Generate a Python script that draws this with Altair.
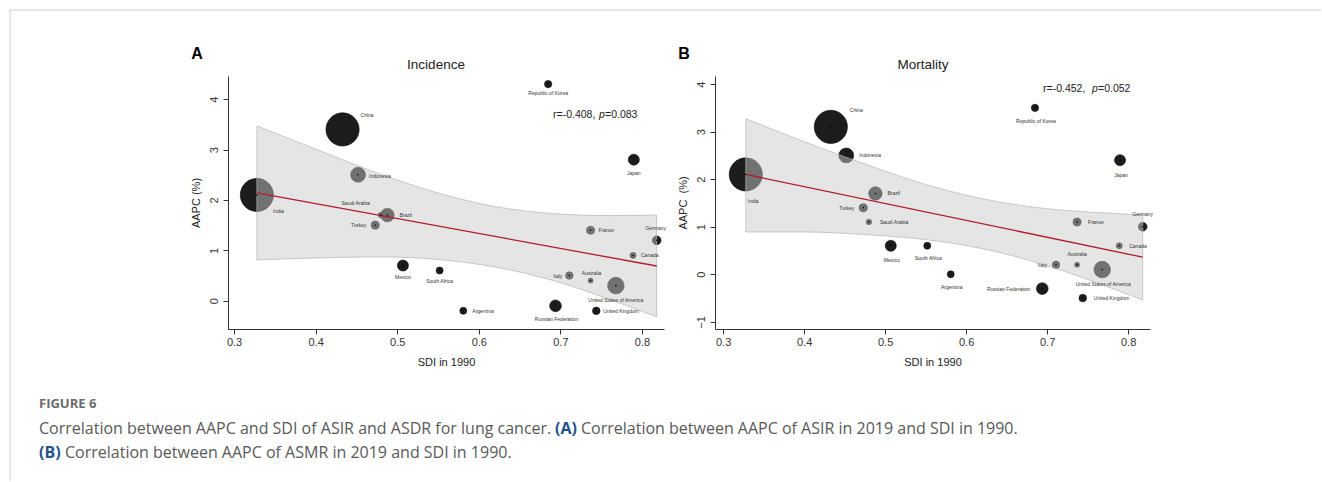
import altair as alt
import pandas as pd

# ---------------- data ----------------
countries = ["China", "India", "Republic of Korea", "Japan", "France", "Germany", "Canada",
             "Italy", "Australia", "United States of America", "United Kingdom",
             "Russian Federation", "Argentina", "South Africa", "Mexico", "Turkey", "Brazil",
             "Saudi Arabia", "Indonesia"]
sdi_1990 = [0.433, 0.328, 0.685, 0.790, 0.737, 0.818, 0.789, 0.711, 0.737, 0.768, 0.744,
            0.694, 0.581, 0.552, 0.507, 0.473, 0.488, 0.480, 0.452]
aapc_incidence = [3.4, 2.1, 4.3, 2.8, 1.4, 1.2, 0.9, 0.5, 0.4, 0.3, -0.2,
                  -0.1, -0.2, 0.6, 0.7, 1.5, 1.7, 1.7, 2.5]
aapc_mortality = [3.1, 2.1, 3.5, 2.4, 1.1, 1.0, 0.6, 0.2, 0.2, 0.1, -0.5,
                  -0.3, 0.0, 0.6, 0.6, 1.4, 1.7, 1.1, 2.5]
bubble_weight = [1444, 1444, 70, 160, 85, 100, 49, 75, 33, 361, 75,
                 180, 64, 64, 160, 88, 240, 40, 289]

band_sdi = [0.328, 0.40, 0.48, 0.55, 0.62, 0.70, 0.76, 0.818]
incidence_upper = [3.47, 3.01, 2.51, 2.14, 1.87, 1.72, 1.69, 1.70]
incidence_lower = [0.81, 0.85, 0.87, 0.82, 0.67, 0.36, 0.03, -0.32]
mortality_upper = [3.27, 2.79, 2.29, 1.89, 1.59, 1.38, 1.30, 1.25]
mortality_lower = [0.89, 0.89, 0.83, 0.73, 0.54, 0.18, -0.17, -0.54]

fit_sdi = [0.328, 0.818]
incidence_fit = [2.14, 0.69]
mortality_fit = [2.10, 0.36]

sdi_ticks = [0.3, 0.4, 0.5, 0.6, 0.7, 0.8]
incidence_ticks = [0, 1, 2, 3, 4]
mortality_ticks = [-1, 0, 1, 2, 3, 4]

# ---------------- label placement (style) ----------------
incidence_label_pos = {
    "China": (18, -14, "left"), "India": (16, 16, "left"), "Republic of Korea": (0, 9, "center"),
    "Japan": (0, 13, "center"), "France": (8, 0, "left"), "Germany": (-1, -12, "center"),
    "Canada": (8, 0, "left"), "Italy": (-7, 0, "right"), "Australia": (1, -8, "center"),
    "United States of America": (0, 14, "center"), "United Kingdom": (7, 0, "left"),
    "Russian Federation": (1, 13, "center"), "Argentina": (9, 0, "left"),
    "South Africa": (0, 10, "center"), "Mexico": (0, 12, "center"), "Turkey": (-9, 0, "right"),
    "Brazil": (12, 0, "left"), "Saudi Arabia": (-11, -12, "right"), "Indonesia": (11, 1, "left"),
}
mortality_label_pos = {
    "China": (19, -17, "left"), "Indonesia": (13, 0, "left"), "India": (2, 27, "left"),
    "Brazil": (12, 0, "left"), "Turkey": (-9, 0, "right"), "Saudi Arabia": (11, 0, "left"),
    "Mexico": (1, 14, "center"), "South Africa": (1, 12, "center"), "Argentina": (1, 13, "center"),
    "Russian Federation": (-12, 0, "right"), "United Kingdom": (11, 0, "left"),
    "United States of America": (1, 14, "center"), "Italy": (-9, 0, "right"),
    "Australia": (0, -11, "center"), "Canada": (10, 0, "left"), "France": (11, 0, "left"),
    "Germany": (0, -13, "center"), "Japan": (1, 15, "center"), "Republic of Korea": (1, 13, "center"),
}

FONT = "Liberation Sans, Arial, Helvetica, sans-serif"
CAP_FONT = "Open Sans, Lato, sans-serif"


def one(t):
    return pd.DataFrame({"t": [t]})


def note(text, x, y, size, weight="normal", color="#222", align="left", style="normal",
         font=FONT):
    return alt.Chart(one(text)).mark_text(
        align=align, baseline="alphabetic", fontSize=size, fontWeight=weight,
        color=color, font=font, fontStyle=style).encode(
        x=alt.value(x), y=alt.value(y), text="t:N")


def panel(aapc, upper, lower, fit, xdom, ydom, yticks, width, title, letter, stat_parts,
          stat_xy, label_pos, ytitle, extras=()):
    df = pd.DataFrame({"country": countries, "sdi": sdi_1990, "aapc": aapc, "w": bubble_weight})
    xs = alt.Scale(domain=xdom, nice=False, zero=False)
    ys = alt.Scale(domain=ydom, nice=False, zero=False)
    xax = alt.Axis(values=sdi_ticks, format=".1f", title="SDI in 1990", grid=False,
                   labelFont=FONT, labelFontSize=11, labelColor="#333", labelPadding=2,
                   tickSize=5, tickColor="#333", domainColor="#333",
                   titleFont=FONT, titleFontSize=11, titleFontWeight="normal",
                   titleColor="#222", titlePadding=9)
    yax = alt.Axis(values=yticks, format="d", title=ytitle, grid=False,
                   labelFont=FONT, labelFontSize=11, labelColor="#333", labelPadding=4,
                   labelAngle=270, labelAlign="center", labelBaseline="bottom",
                   tickSize=5, tickColor="#333", domainColor="#333",
                   titleFont=FONT, titleFontSize=11, titleFontWeight="normal",
                   titleColor="#222", titlePadding=7)
    X = alt.X("sdi:Q", scale=xs, axis=xax)
    Y = alt.Y("aapc:Q", scale=ys, axis=yax)
    base = alt.Chart(df)
    bubbles = base.mark_circle(color="#1c1c1c", opacity=1, stroke="#050505",
                               strokeWidth=0.6).encode(
        x=X, y=Y,
        size=alt.Size("w:Q", scale=alt.Scale(domain=[0, 1444], range=[0, 1100]), legend=None))
    bdf = pd.DataFrame({"sdi": band_sdi, "up": upper, "lo": lower})
    band = alt.Chart(bdf).mark_area(fill="#cacaca", fillOpacity=0.49, stroke="#b5b5b5",
                                    strokeOpacity=0.7, strokeWidth=1,
                                    interpolate="monotone").encode(
        x=alt.X("sdi:Q", scale=xs, axis=xax),
        y=alt.Y("up:Q", scale=ys, axis=yax), y2="lo:Q")
    fdf = pd.DataFrame({"sdi": fit_sdi, "aapc": fit})
    line = alt.Chart(fdf).mark_line(color="#b01c2e", strokeWidth=1.3).encode(x=X, y=Y)
    dots = base.mark_circle(size=2.5, color="#000", opacity=1).encode(x=X, y=Y)
    layers = [bubbles, band, line, dots]
    for c, (dx, dy, al) in label_pos.items():
        layers.append(base.transform_filter(alt.datum.country == c).mark_text(
            dx=dx, dy=dy, align=al, baseline="middle", fontSize=5, font=FONT,
            color="#333").encode(x=X, y=Y, text="country:N"))
    # titles / annotations
    layers.append(note(title, 208, -7, 13.5, align="center"))
    layers.append(note(letter, -31, -17, 16, weight="bold", color="#000", align="center"))
    sx, sy = stat_xy
    layers.append(note(stat_parts[0], sx, sy, 10.5, align="left"))
    layers.append(note("p", sx + stat_parts[2], sy, 10.5, style="italic"))
    layers.append(note(stat_parts[1], sx + stat_parts[2] + 6, sy, 10.5))
    layers.extend(extras)
    return alt.layer(*layers).properties(width=width, height=253)


# caption + frame (relative to panel A plot origin at page 227, 75)
frame_top = alt.Chart(one("f")).mark_rule(color="#cfcfcf", strokeWidth=1).encode(
    x=alt.value(-218), x2=alt.value(1093), y=alt.value(-66))
frame_left = alt.Chart(one("f")).mark_rule(color="#cfcfcf", strokeWidth=1).encode(
    x=alt.value(-218), y=alt.value(-66), y2=alt.value(405))
CAP = 16
caption = [
    frame_top, frame_left,
    note("FIGURE 6", -189, 332, 13, weight="bold", color="#6b6b6b", font=CAP_FONT),
    note("Correlation between AAPC and SDI of ASIR and ASDR for lung cancer.", -189, 358, CAP,
         color="#595959", font=CAP_FONT),
    note("(A)", 327, 358, CAP, weight="bold", color="#24528a", font=CAP_FONT),
    note("Correlation between AAPC of ASIR in 2019 and SDI in 1990.", 353, 358, CAP,
         color="#595959", font=CAP_FONT),
    note("(B)", -189, 382, CAP, weight="bold", color="#24528a", font=CAP_FONT),
    note("Correlation between AAPC of ASMR in 2019 and SDI in 1990.", -163, 382, CAP,
         color="#595959", font=CAP_FONT),
]

panel_a = panel(aapc_incidence, incidence_upper, incidence_lower, incidence_fit,
                [0.2926, 0.827], [-0.56, 4.46], incidence_ticks, 436, "Incidence", "A",
                ("r=-0.408,", "=0.083", 46), (325, 42), incidence_label_pos, "AAPC (%)",
                extras=caption)
panel_b = panel(aapc_mortality, mortality_upper, mortality_lower, mortality_fit,
                [0.290, 0.827], [-1.15, 4.17], mortality_ticks, 435, "Mortality", "B",
                ("r=-0.452,", "=0.052", 49), (328, 16), mortality_label_pos,
                "AAPC\u00a0 (%)")

chart = alt.hconcat(panel_a, panel_b, spacing=51, bounds="flush").properties(
    padding={"left": 9, "top": 9, "right": 0, "bottom": 0},
    background="white",
).configure_view(stroke=None)

chart.save("out.html", embed_options={"renderer": "svg", "actions": False})
